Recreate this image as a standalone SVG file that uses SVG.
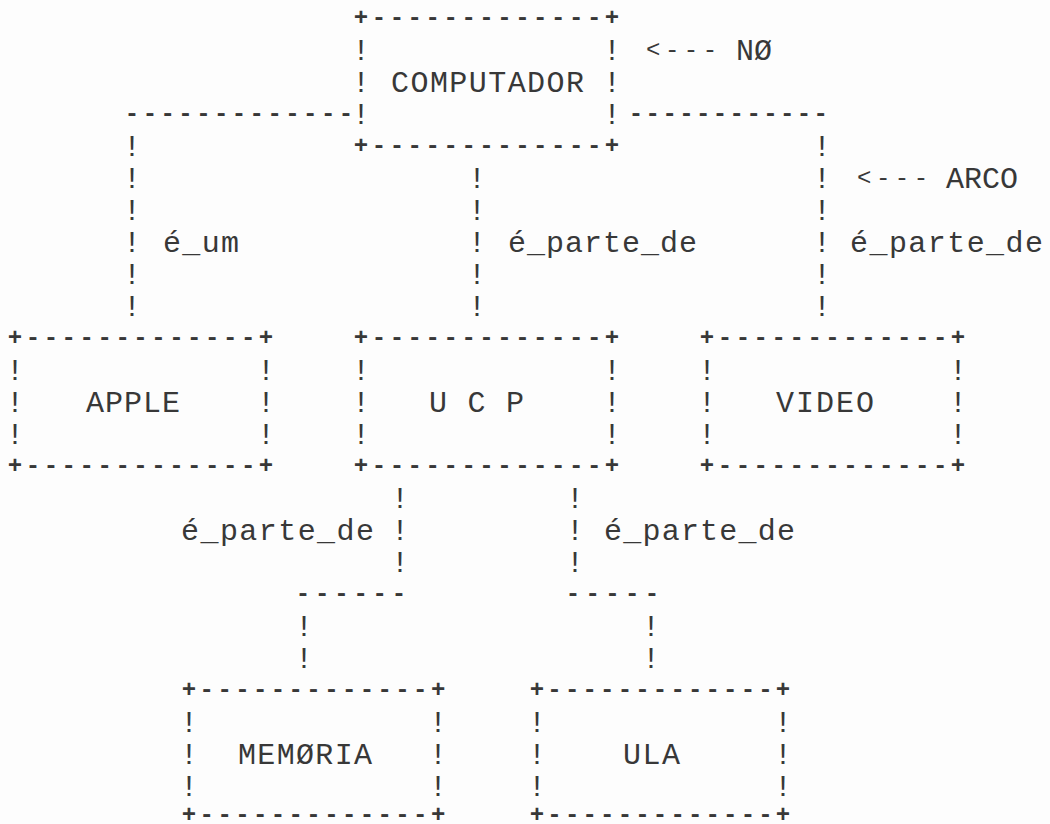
<svg xmlns="http://www.w3.org/2000/svg" width="1050" height="824" viewBox="0 0 1050 824">
<style>
.t{font-family:"Liberation Mono","DejaVu Sans Mono",monospace;font-size:30px;fill:#383838}
.m{text-anchor:middle}
.d{font-size:24px;font-weight:bold}
.b{font-size:24px;font-weight:bold;letter-spacing:3.53px}
</style>
<rect width="1050" height="824" fill="#fdfdfd"/>
<g id="node-computador" class="t">
<text class="b" x="353.8" y="24.5">+-------------+</text>
<text class="m" x="361" y="60">!</text><text class="m" x="612" y="60">!</text>
<text class="m" x="361" y="92">!</text><text class="m" x="612" y="92">!</text>
<text class="m" x="361" y="124">!</text><text class="m" x="612" y="124">!</text>
<text class="b" x="353.8" y="152.5">+-------------+</text>
<text x="391" y="92" textLength="193" lengthAdjust="spacing">COMPUTADOR</text>
</g>
<g id="node-apple" class="t">
<text class="b" x="7.8" y="344.5">+-------------+</text>
<text class="m" x="15" y="380">!</text><text class="m" x="266" y="380">!</text>
<text class="m" x="15" y="412">!</text><text class="m" x="266" y="412">!</text>
<text class="m" x="15" y="444">!</text><text class="m" x="266" y="444">!</text>
<text class="b" x="7.8" y="472.5">+-------------+</text>
<text x="86" y="412" textLength="94" lengthAdjust="spacing">APPLE</text>
</g>
<g id="node-ucp" class="t">
<text class="b" x="353.8" y="344.5">+-------------+</text>
<text class="m" x="361" y="380">!</text><text class="m" x="612" y="380">!</text>
<text class="m" x="361" y="412">!</text><text class="m" x="612" y="412">!</text>
<text class="m" x="361" y="444">!</text><text class="m" x="612" y="444">!</text>
<text class="b" x="353.8" y="472.5">+-------------+</text>
<text x="429" y="412" textLength="95" lengthAdjust="spacing">U C P</text>
</g>
<g id="node-video" class="t">
<text class="b" x="699.8" y="344.5">+-------------+</text>
<text class="m" x="707" y="380">!</text><text class="m" x="958" y="380">!</text>
<text class="m" x="707" y="412">!</text><text class="m" x="958" y="412">!</text>
<text class="m" x="707" y="444">!</text><text class="m" x="958" y="444">!</text>
<text class="b" x="699.8" y="472.5">+-------------+</text>
<text x="776" y="412" textLength="98" lengthAdjust="spacing">VIDEO</text>
</g>
<g id="node-memoria" class="t">
<text class="b" x="181.8" y="696.5" style="letter-spacing:3.39px">+-------------+</text>
<text class="m" x="189" y="732">!</text><text class="m" x="438" y="732">!</text>
<text class="m" x="189" y="764">!</text><text class="m" x="438" y="764">!</text>
<text class="m" x="189" y="796">!</text><text class="m" x="438" y="796">!</text>
<text class="b" x="181.8" y="822" style="letter-spacing:3.39px">+-------------+</text>
<text x="238" y="764" textLength="134" lengthAdjust="spacing">MEMØRIA</text>
</g>
<g id="node-ula" class="t">
<text class="b" x="529.8" y="696.5" style="letter-spacing:3.17px">+-------------+</text>
<text class="m" x="537" y="732">!</text><text class="m" x="783" y="732">!</text>
<text class="m" x="537" y="764">!</text><text class="m" x="783" y="764">!</text>
<text class="m" x="537" y="796">!</text><text class="m" x="783" y="796">!</text>
<text class="b" x="529.8" y="822" style="letter-spacing:3.17px">+-------------+</text>
<text x="623" y="764" textLength="57" lengthAdjust="spacing">ULA</text>
</g>
<g id="connectors" class="t">
<text class="d" x="124.8" y="120.5" style="letter-spacing:3.43px">-------------</text>
<text class="d" x="628.8" y="120.5" style="letter-spacing:2.4px">------------</text>
<text class="m" x="132" y="156">!</text><text class="m" x="132" y="188">!</text><text class="m" x="132" y="220">!</text>
<text class="m" x="132" y="252">!</text><text class="m" x="132" y="284">!</text><text class="m" x="132" y="316">!</text>
<text class="m" x="477" y="188">!</text><text class="m" x="477" y="220">!</text>
<text class="m" x="477" y="252">!</text><text class="m" x="477" y="284">!</text><text class="m" x="477" y="316">!</text>
<text class="m" x="822" y="156">!</text><text class="m" x="822" y="188">!</text><text class="m" x="822" y="220">!</text>
<text class="m" x="822" y="252">!</text><text class="m" x="822" y="284">!</text><text class="m" x="822" y="316">!</text>
<text x="163" y="252" textLength="76" lengthAdjust="spacing">é_um</text>
<text x="508" y="252" textLength="189" lengthAdjust="spacing">é_parte_de</text>
<text x="850" y="252" textLength="193" lengthAdjust="spacing">é_parte_de</text>
<text class="m" x="400" y="508">!</text><text class="m" x="400" y="540">!</text><text class="m" x="400" y="572">!</text>
<text class="m" x="575" y="508">!</text><text class="m" x="575" y="540">!</text><text class="m" x="575" y="572">!</text>
<text x="181" y="540" textLength="193" lengthAdjust="spacing">é_parte_de</text>
<text x="604" y="540" textLength="191" lengthAdjust="spacing">é_parte_de</text>
<text class="d" x="295.8" y="600.5" style="letter-spacing:4.8px">------</text>
<text class="d" x="565.8" y="600.5" style="letter-spacing:5.35px">-----</text>
<text class="m" x="304" y="636">!</text><text class="m" x="304" y="668">!</text>
<text class="m" x="651" y="636">!</text><text class="m" x="651" y="668">!</text>
</g>
<g id="annotations" class="t">
<text class="d" x="646" y="56.5" style="letter-spacing:4.5px;font-weight:normal">&lt;---</text>
<text x="736" y="60">NØ</text>
<text class="d" x="857" y="184.5" style="letter-spacing:4.5px;font-weight:normal">&lt;---</text>
<text x="946" y="188">ARCO</text>
</g>
</svg>
